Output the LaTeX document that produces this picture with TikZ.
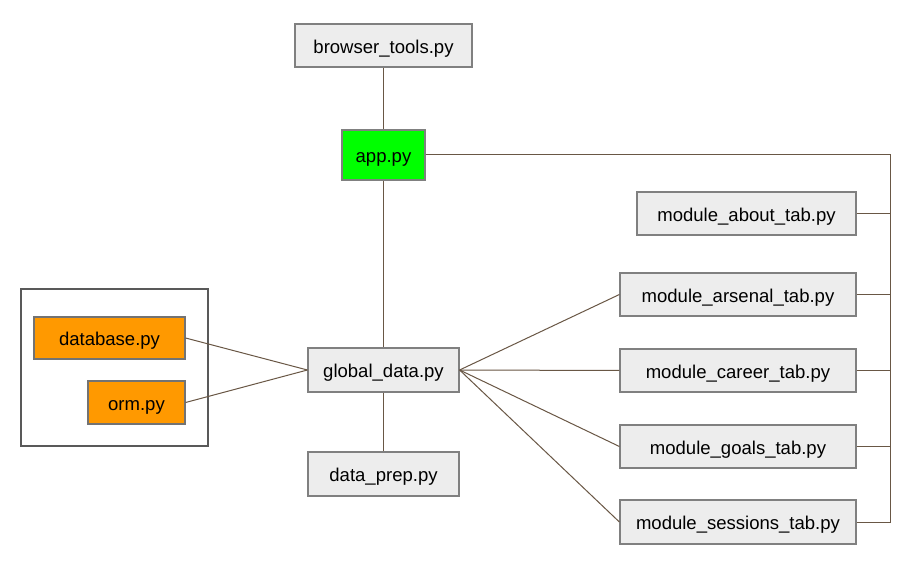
\documentclass[tikz,border=0pt]{standalone}
\usepackage{fontspec}
\setmainfont{Liberation Sans}
\begin{document}
\begin{tikzpicture}[x=0.75pt,y=-0.75pt,
  font=\fontsize{13.9}{16}\selectfont,
  file/.style={draw=black!50,line width=0.9pt,fill=black!7,inner sep=0pt,
    text height=11.4pt,text depth=0pt,minimum height=43*0.75pt},
  main/.style={file,fill=green},
  db/.style={file,fill=orange!80!yellow,draw=black!55},
  link/.style={draw=black!65!brown!80,line width=0.75pt}]
\path[fill=white,use as bounding box] (0,0) rectangle (908,563);

% group frame around the database modules
\node[draw=black!65,line width=0.8pt,minimum width=187*0.75pt,minimum height=157*0.75pt,inner sep=0pt] (grp) at (114.5,367.5) {};

\node[file,minimum width=177*0.75pt] (browser) at (383.5,45.5) {browser\_tools.py};
\node[main,minimum width=83*0.75pt,minimum height=50*0.75pt] (app) at (383.5,155) {app.py};
\node[file,minimum width=151*0.75pt,minimum height=44*0.75pt] (global) at (383.5,370) {global\_data.py};
\node[file,minimum width=151*0.75pt,minimum height=44*0.75pt] (prep) at (383.5,474) {data\_prep.py};

\node[db,minimum width=151*0.75pt,minimum height=42*0.75pt] (database) at (109.5,338) {database.py};
\node[db,minimum width=97*0.75pt] (orm) at (136.5,402.5) {orm.py};

\node[file,minimum width=219*0.75pt] (about) at (746.5,213.5) {module\_about\_tab.py};
\node[file,minimum width=236*0.75pt] (arsenal) at (738,294.5) {module\_arsenal\_tab.py};
\node[file,minimum width=236*0.75pt] (career) at (738,370.5) {module\_career\_tab.py};
\node[file,minimum width=236*0.75pt] (goals) at (738,446.5) {module\_goals\_tab.py};
\node[file,minimum width=236*0.75pt,minimum height=44*0.75pt] (sessions) at (738,522) {module\_sessions\_tab.py};

% dependency links
\draw[link] (browser) -- (app);
\draw[link] (app) -- (global);
\draw[link] (global) -- (prep);
\draw[link] (database.east) -- (global.west);
\draw[link] (orm.east) -- (global.west);
\foreach \m in {arsenal,career,goals,sessions}
  \draw[link] (global.east) -- (\m.west);

% bus from app.py to the tab modules
\coordinate (bus) at (890,155);
\draw[link] (app.east) -- (bus) |- (sessions.east);
\foreach \m in {about,arsenal,career,goals}
  \draw[link] (\m.east) -- (\m.east -| bus);
\end{tikzpicture}
\end{document}
